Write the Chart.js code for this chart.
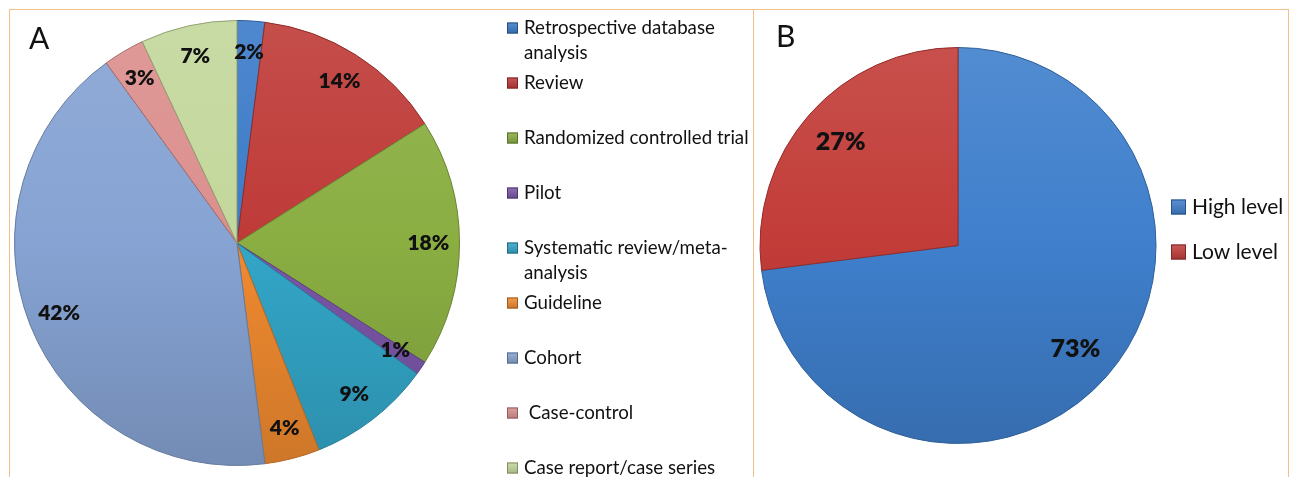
<!DOCTYPE html>
<html>
<head>
<meta charset="utf-8">
<script src="https://cdn.jsdelivr.net/npm/chart.js@4.4.1/dist/chart.umd.min.js"></script>
<style>
  html, body { margin: 0; padding: 0; background: #ffffff; }
  #wrap { position: relative; width: 1292px; height: 477px; overflow: hidden; background: #fff; }
  .line { position: absolute; background: #F2BF88; }
  canvas { position: absolute; top: 0; }
</style>
</head>
<body>
<div id="wrap">
  <canvas id="chartA" width="753" height="477" style="left:0px"></canvas>
  <canvas id="chartB" width="539" height="477" style="left:753px"></canvas>
  <div class="line" style="left:9px; top:9px; width:1280px; height:1px;"></div>
  <div class="line" style="left:9px; top:9px; width:1px; height:468px;"></div>
  <div class="line" style="left:753px; top:9px; width:1px; height:468px;"></div>
  <div class="line" style="left:1288px; top:9px; width:1px; height:468px;"></div>
</div>
<script>
// ---------- DATA ----------
const categoriesA = [
  ['Retrospective database', 'analysis'],
  'Review',
  'Randomized controlled trial',
  'Pilot',
  ['Systematic review/meta-', 'analysis'],
  'Guideline',
  'Cohort',
  ' Case-control',
  'Case report/case series'
];
const valuesA = [2, 14, 18, 1, 9, 4, 42, 3, 7];
const colorsA = ['#3B7BC8', '#BE3A37', '#8AAE42', '#7A56A8', '#33A6C8', '#F08A30', '#86A3D3', '#DB8F8D', '#C3D79B'];

const categoriesB = ['High level', 'Low level'];
const valuesB = [73, 27];
const colorsB = ['#3F7FCC', '#C23C38'];

const panelLabelA = 'A';
const panelLabelB = 'B';

// ---------- helpers ----------
function shade(hex, amt) {
  const n = parseInt(hex.slice(1), 16);
  let r = (n >> 16) & 255, g = (n >> 8) & 255, b = n & 255;
  const f = v => Math.max(0, Math.min(255, Math.round(amt >= 0 ? v + (255 - v) * amt : v * (1 + amt))));
  return 'rgb(' + f(r) + ',' + f(g) + ',' + f(b) + ')';
}
function gradFill(colors) {
  return function (context) {
    const chart = context.chart;
    const area = chart.chartArea;
    const base = colors[context.dataIndex];
    if (!area) return base;
    const g = chart.ctx.createLinearGradient(0, area.top, 0, area.bottom);
    g.addColorStop(0, shade(base, 0.10));
    g.addColorStop(0.5, base);
    g.addColorStop(1, shade(base, -0.14));
    return g;
  };
}

function pctLabelPlugin(id, factor, font) {
  return {
    id: id,
    afterDatasetsDraw(chart) {
      const ctx = chart.ctx;
      const ds = chart.data.datasets[0].data;
      const total = ds.reduce((a, b) => a + b, 0);
      const meta = chart.getDatasetMeta(0);
      ctx.save();
      ctx.font = font;
      ctx.fillStyle = '#111';
      ctx.textAlign = 'center';
      ctx.textBaseline = 'middle';
      meta.data.forEach((arc, i) => {
        const p = arc.getProps(['x', 'y', 'startAngle', 'endAngle', 'outerRadius'], true);
        const mid = (p.startAngle + p.endAngle) / 2;
        const r = p.outerRadius * factor;
        const txt = Math.round(ds[i] / total * 100) + '%';
        ctx.fillText(txt, p.x + Math.cos(mid) * r, p.y + Math.sin(mid) * r);
      });
      ctx.restore();
    }
  };
}

function legendPlugin(id, cfg) {
  return {
    id: id,
    afterDraw(chart) {
      const ctx = chart.ctx;
      const labels = chart.data.labels;
      const cols = cfg.colors;
      ctx.save();
      ctx.font = cfg.font;
      ctx.textBaseline = 'middle';
      ctx.textAlign = 'left';
      labels.forEach((lab, i) => {
        const y = cfg.top + i * cfg.step;
        const s = cfg.box;
        const g = ctx.createLinearGradient(0, y - s / 2, 0, y + s / 2);
        g.addColorStop(0, shade(cols[i], 0.15));
        g.addColorStop(1, shade(cols[i], -0.15));
        ctx.fillStyle = g;
        ctx.fillRect(cfg.boxX, y - s / 2, s, s);
        ctx.strokeStyle = shade(cols[i], -0.35);
        ctx.lineWidth = 1;
        ctx.strokeRect(cfg.boxX + 0.5, y - s / 2 + 0.5, s - 1, s - 1);
        ctx.fillStyle = '#111';
        const lines = Array.isArray(lab) ? lab : [lab];
        lines.forEach((ln, k) => ctx.fillText(ln, cfg.textX, y + k * cfg.lineH));
      });
      ctx.restore();
    }
  };
}

function panelTitlePlugin(id, text, x, y) {
  return {
    id: id,
    afterDraw(chart) {
      const ctx = chart.ctx;
      ctx.save();
      ctx.font = '400 30px Lato';
      ctx.fillStyle = '#111';
      ctx.textBaseline = 'alphabetic';
      ctx.textAlign = 'left';
      ctx.fillText(text, x, y);
      ctx.restore();
    }
  };
}

const commonOpts = {
  responsive: false,
  animation: false,
  plugins: { legend: { display: false }, tooltip: { enabled: false } }
};

new Chart(document.getElementById('chartA'), {
  type: 'pie',
  data: {
    labels: categoriesA,
    datasets: [{
      data: valuesA,
      backgroundColor: gradFill(colorsA),
      borderColor: colorsA.map(c => shade(c, -0.25)),
      borderWidth: 1
    }]
  },
  options: Object.assign({}, commonOpts, {
    layout: { padding: { left: 14, top: 20, right: 753 - 460, bottom: 477 - 466 } }
  }),
  plugins: [
    pctLabelPlugin('pctA', 0.86, '800 21px Lato'),
    legendPlugin('legA', { colors: colorsA, font: '400 18.7px Lato', top: 28, step: 55, lineH: 25, box: 11, boxX: 507, textX: 524 }),
    panelTitlePlugin('titleA', panelLabelA, 29, 49)
  ]
});

new Chart(document.getElementById('chartB'), {
  type: 'pie',
  data: {
    labels: categoriesB,
    datasets: [{
      data: valuesB,
      backgroundColor: gradFill(colorsB),
      borderColor: colorsB.map(c => shade(c, -0.25)),
      borderWidth: 1
    }]
  },
  options: Object.assign({}, commonOpts, {
    layout: { padding: { left: 6, top: 47, right: 539 - 404, bottom: 477 - 444 } }
  }),
  plugins: [
    pctLabelPlugin('pctB', 0.79, '800 25px Lato'),
    legendPlugin('legB', { colors: colorsB, font: '400 21px Lato', top: 207, step: 45, lineH: 25, box: 15, boxX: 418, textX: 439 }),
    panelTitlePlugin('titleB', panelLabelB, 23, 47)
  ]
});
</script>
</body>
</html>
